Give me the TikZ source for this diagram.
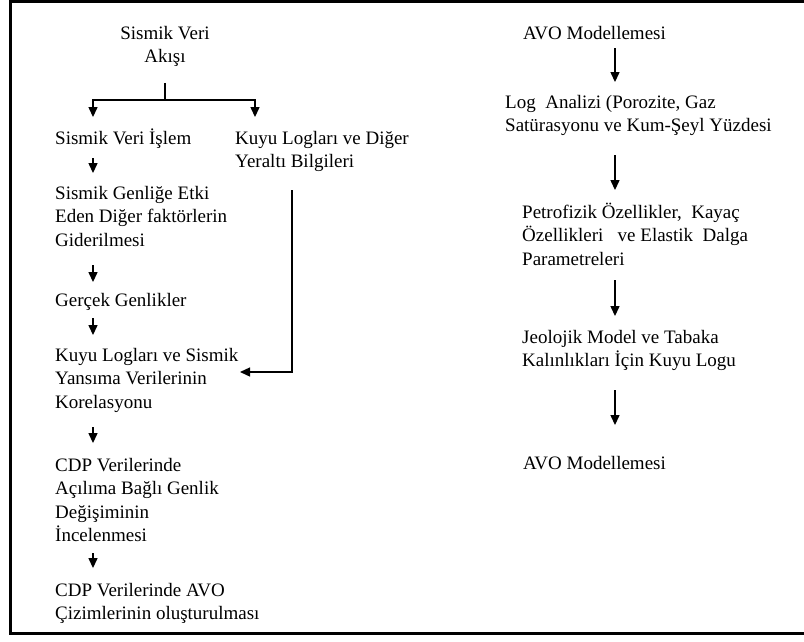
\documentclass[tikz,border=0pt]{standalone}
\usepackage{fontspec}
\setmainfont{Liberation Serif}
\usetikzlibrary{arrows.meta}
\tikzset{
  txt/.style={inner sep=0pt, anchor=north west, align=left,
    font=\fontsize{19}{23.5}\selectfont,
    execute at begin node=\strut, execute at end node=\strut},
  ctxt/.style={txt, anchor=north, align=center},
  conn/.style={line width=1.3pt, black},
  arr/.style={conn, -{Triangle[width=9pt,length=10pt]}},
  frame/.style={line width=3pt, black}
}
\begin{document}
\begin{tikzpicture}[x=1pt,y=-1pt]
\useasboundingbox (0,0) rectangle (804,641);
% frame (right side cut off)
\draw[frame] (820,1.5) -- (10.5,1.5) -- (10.5,633.5) -- (820,633.5);

% column guide coordinates
\coordinate (colL) at (93,0);
\coordinate (colK) at (255,0);
\coordinate (colV) at (292,0);
\coordinate (colR) at (615,0);

% left part
\node[ctxt] (top) at (165,22.55) {\strut Sismik Veri\\Akışı\strut};
\node[txt] (isl) at (55,127.55) {Sismik Veri İşlem};
\node[txt] (kuyu) at (235,127.55) {\strut Kuyu Logları ve Diğer\\Yeraltı Bilgileri\strut};
\node[txt] (gen) at (55,182.55) {\strut Sismik Genliğe Etki\\Eden Diğer faktörlerin\\Giderilmesi\strut};
\node[txt] (ger) at (55,289.55) {Gerçek Genlikler};
\node[txt] (kor) at (55,344.55) {\strut Kuyu Logları ve Sismik\\Yansıma Verilerinin\\Korelasyonu\strut};
\node[txt] (cdpa) at (55,454.55) {\strut CDP Verilerinde\\Açılıma Bağlı Genlik\\Değişiminin\\İncelenmesi\strut};
\node[txt] (cdpb) at (55,579.55) {\strut CDP Verilerinde AVO\\Çizimlerinin oluşturulması\strut};

% right part
\node[txt] (avoa) at (523,22.55) {AVO Modellemesi};
\node[txt] (log) at (505,91.55) {\strut Log\ \ Analizi (Porozite, Gaz\\Satürasyonu ve Kum-Şeyl Yüzdesi\strut};
\node[txt] (pet) at (522,201.55) {\strut Petrofizik Özellikler,\ \ Kayaç\\Özellikleri\ \ \ ve Elastik\ \ Dalga\\Parametreleri\strut};
\node[txt] (jeo) at (522,326.55) {\strut Jeolojik Model ve Tabaka\\Kalınlıkları İçin Kuyu Logu\strut};
\node[txt] (avob) at (523,452.55) {AVO Modellemesi};

% split from top
\draw[conn] ([yshift=-13pt]top.south) -- ++(0,17) coordinate (split);
\draw[arr] (split) -| ([yshift=10.5pt]isl.north -| colL);
\draw[arr] (split) -| ([yshift=10.5pt]kuyu.north -| colK);

% left chain
\draw[arr] ([yshift=-7pt]isl.south -| colL) -- ([yshift=9.5pt]gen.north -| colL);
\draw[arr] ([yshift=-12pt]gen.south -| colL) -- ([yshift=7.5pt]ger.north -| colL);
\draw[arr] ([yshift=-5pt]ger.south -| colL) -- ([yshift=9.5pt]kor.north -| colL);
\draw[arr] ([yshift=-12pt]kor.south -| colL) -- ([yshift=11.5pt]cdpa.north -| colL);
\draw[arr] ([yshift=-4.5pt]cdpa.south -| colL) -- ([yshift=11.5pt]cdpb.north -| colL);

% from well logs to correlation
\draw[arr] ([yshift=-15.5pt]kuyu.south -| colV) |- ([xshift=185pt,yshift=-27.45pt]kor.north west);

% right chain
\draw[arr] ([yshift=-2pt]avoa.south -| colR) -- ([yshift=9.5pt]log.north -| colR);
\draw[arr] ([yshift=-16.5pt]log.south -| colR) -- ([yshift=11.5pt]pet.north -| colR);
\draw[arr] ([yshift=-8pt]pet.south -| colR) -- ([yshift=10.5pt]jeo.north -| colR);
\draw[arr] ([yshift=-16.5pt]jeo.south -| colR) -- ([yshift=27.5pt]avob.north -| colR);
\end{tikzpicture}
\end{document}
